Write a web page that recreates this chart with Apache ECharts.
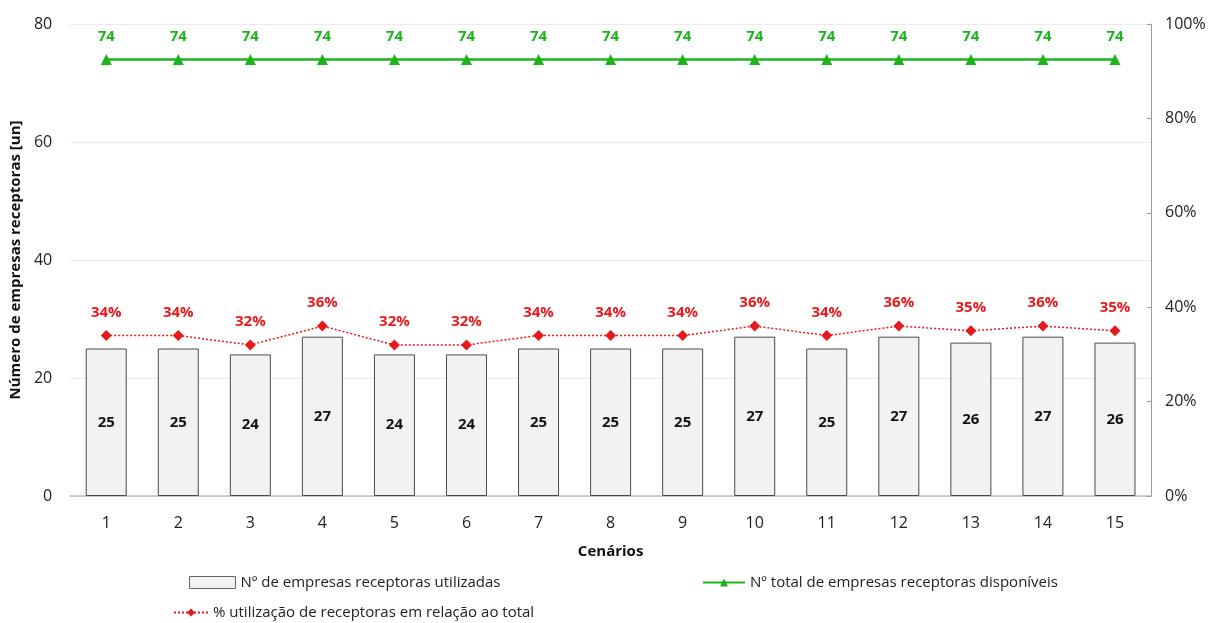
<!DOCTYPE html>
<html>
<head>
<meta charset="utf-8">
<script src="https://cdn.jsdelivr.net/npm/echarts@6/dist/echarts.min.js"></script>
<style>
  html, body { margin: 0; padding: 0; background: #fff; }
  #chart { width: 1210px; height: 623px; }
</style>
</head>
<body>
<div id="chart"></div>
<script>
// Scenario categories and series
const cenarios = ['1','2','3','4','5','6','7','8','9','10','11','12','13','14','15'];
const receptorasUtilizadas = [25, 25, 24, 27, 24, 24, 25, 25, 25, 27, 25, 27, 26, 27, 26];
const receptorasDisponiveis = [74, 74, 74, 74, 74, 74, 74, 74, 74, 74, 74, 74, 74, 74, 74];
const percentUtilizacao = [34, 34, 32, 36, 32, 32, 34, 34, 34, 36, 34, 36, 35, 36, 35];

const nomeBarras = 'Nº de empresas receptoras utilizadas';
const nomeTotal = 'Nº total de empresas receptoras disponíveis';
const nomePercent = '% utilização de receptoras em relação ao total';

const FONT = 'Open Sans, Noto Sans, sans-serif';
const GREEN = '#1cb41c';
const RED = '#e8191c';

const chart = echarts.init(document.getElementById('chart'), null, { renderer: 'canvas' });

chart.setOption({
  animation: false,
  textStyle: { fontFamily: FONT },
  grid: { left: 69, right: 59, top: 24, bottom: 127, containLabel: false },
  legend: [
    {
      data: [{ name: nomeBarras, icon: 'rect', itemStyle: { borderWidth: 1, borderColor: '#666', color: '#f2f2f2' } }],
      left: 184, top: 570, itemWidth: 46, itemHeight: 12, itemGap: 4,
      textStyle: { fontFamily: FONT, fontSize: 15, color: '#222' }
    },
    {
      data: [nomeTotal],
      left: 697, top: 570, itemWidth: 42, itemHeight: 10,
      textStyle: { fontFamily: FONT, fontSize: 15, color: '#222' }
    },
    {
      data: [nomePercent],
      left: 168, top: 600, itemWidth: 34, itemHeight: 10,
      textStyle: { fontFamily: FONT, fontSize: 15, color: '#222' }
    }
  ],
  xAxis: {
    type: 'category',
    data: cenarios,
    name: 'Cenários',
    nameLocation: 'middle',
    nameGap: 48,
    nameTextStyle: { fontFamily: FONT, fontSize: 15, fontWeight: 'bold', color: '#111' },
    axisLine: { show: true, lineStyle: { color: '#bfbfbf', width: 1.5 } },
    axisTick: { show: false },
    axisLabel: { fontFamily: FONT, fontSize: 16, color: '#222', margin: 19 }
  },
  yAxis: [
    {
      type: 'value',
      min: 0, max: 80, interval: 20,
      name: 'Número de empresas receptoras [un]',
      nameLocation: 'middle',
      nameGap: 47,
      nameTextStyle: { fontFamily: FONT, fontSize: 15, fontWeight: 'bold', color: '#111' },
      axisLine: { show: false },
      axisTick: { show: false },
      axisLabel: { fontFamily: FONT, fontSize: 16, color: '#222', margin: 18 },
      splitLine: { show: true, lineStyle: { color: '#ebebeb', width: 1 } }
    },
    {
      type: 'value',
      min: 0, max: 100, interval: 20,
      position: 'right',
      axisLine: { show: true, lineStyle: { color: '#9a9a9a', width: 1 } },
      axisTick: { show: true, inside: true, length: 4, lineStyle: { color: '#9a9a9a' } },
      axisLabel: { fontFamily: FONT, fontSize: 16, color: '#222', margin: 14, formatter: '{value}%' },
      splitLine: { show: false }
    }
  ],
  series: [
    {
      name: nomeBarras,
      type: 'bar',
      yAxisIndex: 0,
      data: receptorasUtilizadas,
      barWidth: 41,
      itemStyle: { color: '#f2f2f2', borderColor: '#4a4a4a', borderWidth: 1 },
      label: {
        show: true, position: 'inside',
        fontFamily: FONT, fontSize: 15, fontWeight: 'bold', color: '#111'
      },
      z: 1
    },
    {
      name: nomeTotal,
      type: 'line',
      yAxisIndex: 0,
      data: receptorasDisponiveis,
      symbol: 'triangle',
      symbolSize: 11,
      lineStyle: { color: GREEN, width: 2.5 },
      itemStyle: { color: GREEN },
      label: {
        show: true, position: 'top', distance: 10,
        fontFamily: FONT, fontSize: 15, fontWeight: 'bold', color: GREEN
      },
      z: 3
    },
    {
      name: nomePercent,
      type: 'line',
      yAxisIndex: 1,
      data: percentUtilizacao,
      symbol: 'diamond',
      symbolSize: 11,
      lineStyle: { color: RED, width: 1.5, type: [2, 2] },
      itemStyle: { color: RED },
      label: {
        show: true, position: 'top', distance: 10,
        fontFamily: FONT, fontSize: 15, fontWeight: 'bold', color: RED,
        formatter: '{c}%'
      },
      z: 4
    }
  ]
});
</script>
</body>
</html>
